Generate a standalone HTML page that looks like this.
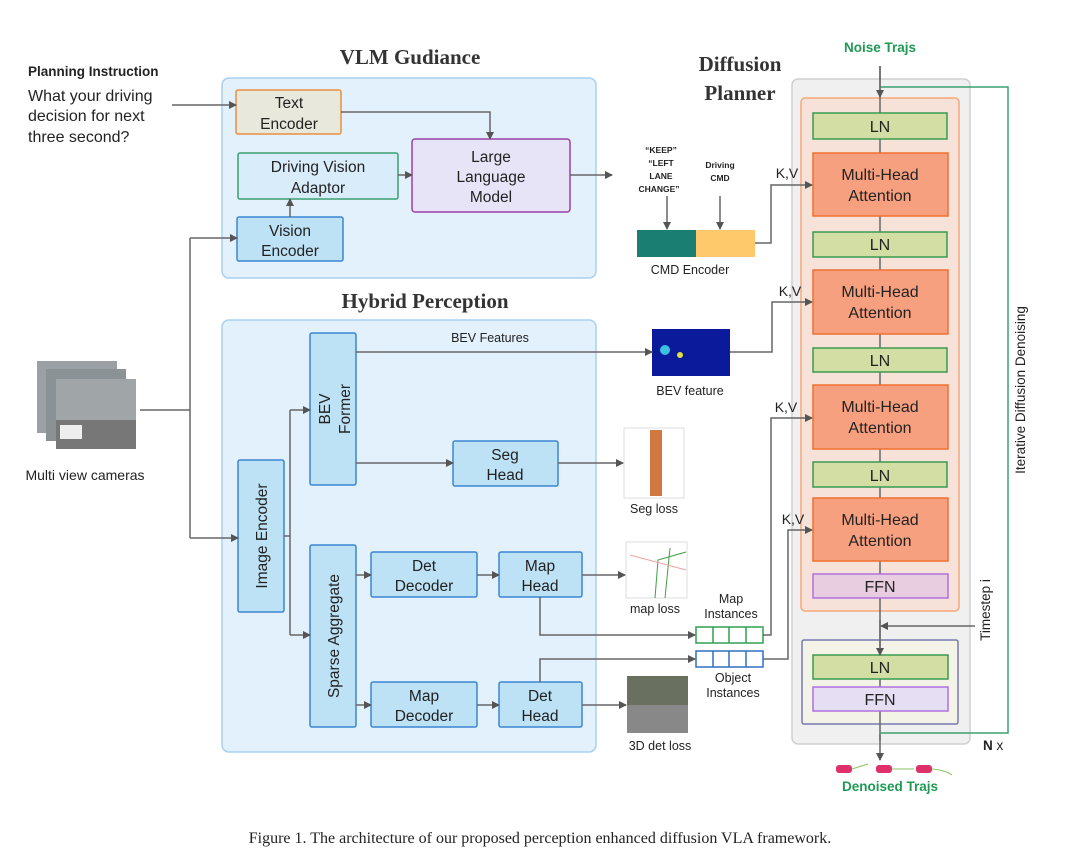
<!DOCTYPE html>
<html><head><meta charset="utf-8"><style>
body{margin:0;background:#fff}
svg{display:block}
text{font-family:"Liberation Sans",sans-serif;fill:#222}
.s{font-family:"Liberation Serif",serif;font-weight:bold;fill:#333}
</style></head><body>
<svg width="1080" height="856" viewBox="0 0 1080 856" xmlns="http://www.w3.org/2000/svg">
<defs>
<marker id="a" markerWidth="8" markerHeight="8" refX="7" refY="4" orient="auto" markerUnits="userSpaceOnUse"><path d="M0,0 L8,4 L0,8 z" fill="#555"/></marker>
</defs>
<text x="410" y="64" class="s" font-size="21" text-anchor="middle">VLM Gudiance</text>
<text x="425" y="308" class="s" font-size="21" text-anchor="middle">Hybrid Perception</text>
<text x="740" y="71" class="s" font-size="21" text-anchor="middle">Diffusion</text>
<text x="740" y="100" class="s" font-size="21" text-anchor="middle">Planner</text>
<text x="28" y="76" font-size="13.5" font-weight="bold" fill="#111">Planning Instruction</text>
<text x="28" y="101" font-size="16">What your driving</text>
<text x="28" y="121" font-size="16">decision for next</text>
<text x="28" y="142" font-size="16">three second?</text>
<rect x="222" y="78" width="374" height="200" rx="7" fill="#e3f1fc" stroke="#a8d0f0" stroke-width="1.5"/>
<rect x="222" y="320" width="374" height="432" rx="7" fill="#e3f1fc" stroke="#a8d0f0" stroke-width="1.5"/>
<rect x="236" y="90" width="105" height="44" rx="2" fill="#e8e9dc" stroke="#e89040" stroke-width="1.5"/>
<text x="289" y="108" font-size="15.5" text-anchor="middle">Text</text>
<text x="289" y="129" font-size="15.5" text-anchor="middle">Encoder</text>
<rect x="238" y="153" width="160" height="46" rx="2" fill="#d9ecfa" stroke="#3aa070" stroke-width="1.5"/>
<text x="318" y="172" font-size="15.5" text-anchor="middle">Driving Vision</text>
<text x="318" y="193" font-size="15.5" text-anchor="middle">Adaptor</text>
<rect x="237" y="217" width="106" height="44" rx="2" fill="#bde2f6" stroke="#3a86d0" stroke-width="1.5"/>
<text x="290" y="236" font-size="15.5" text-anchor="middle">Vision</text>
<text x="290" y="256" font-size="15.5" text-anchor="middle">Encoder</text>
<rect x="412" y="139" width="158" height="73" rx="3" fill="#e8e4f8" stroke="#9a40a8" stroke-width="1.5"/>
<text x="491" y="162" font-size="15.5" text-anchor="middle">Large</text>
<text x="491" y="182" font-size="15.5" text-anchor="middle">Language</text>
<text x="491" y="202" font-size="15.5" text-anchor="middle">Model</text>
<rect x="238" y="460" width="46" height="152" rx="2" fill="#bde2f6" stroke="#3a86d0" stroke-width="1.5"/>
<text transform="translate(267,536) rotate(-90)" font-size="15.5" text-anchor="middle">Image Encoder</text>
<rect x="310" y="333" width="46" height="152" rx="2" fill="#bde2f6" stroke="#3a86d0" stroke-width="1.5"/>
<text transform="translate(330,409) rotate(-90)" font-size="15.5" text-anchor="middle">BEV</text>
<text transform="translate(350,409) rotate(-90)" font-size="15.5" text-anchor="middle">Former</text>
<rect x="310" y="545" width="46" height="182" rx="2" fill="#bde2f6" stroke="#3a86d0" stroke-width="1.5"/>
<text transform="translate(339,636) rotate(-90)" font-size="15.5" text-anchor="middle">Sparse Aggregate</text>
<rect x="453" y="441" width="105" height="45" rx="2" fill="#bde2f6" stroke="#3a86d0" stroke-width="1.5"/>
<text x="505" y="460" font-size="15.5" text-anchor="middle">Seg</text>
<text x="505" y="480" font-size="15.5" text-anchor="middle">Head</text>
<rect x="371" y="552" width="106" height="45" rx="2" fill="#bde2f6" stroke="#3a86d0" stroke-width="1.5"/>
<text x="424" y="571" font-size="15.5" text-anchor="middle">Det</text>
<text x="424" y="591" font-size="15.5" text-anchor="middle">Decoder</text>
<rect x="499" y="552" width="83" height="45" rx="2" fill="#bde2f6" stroke="#3a86d0" stroke-width="1.5"/>
<text x="540" y="571" font-size="15.5" text-anchor="middle">Map</text>
<text x="540" y="591" font-size="15.5" text-anchor="middle">Head</text>
<rect x="371" y="682" width="106" height="45" rx="2" fill="#bde2f6" stroke="#3a86d0" stroke-width="1.5"/>
<text x="424" y="701" font-size="15.5" text-anchor="middle">Map</text>
<text x="424" y="721" font-size="15.5" text-anchor="middle">Decoder</text>
<rect x="499" y="682" width="83" height="45" rx="2" fill="#bde2f6" stroke="#3a86d0" stroke-width="1.5"/>
<text x="540" y="701" font-size="15.5" text-anchor="middle">Det</text>
<text x="540" y="721" font-size="15.5" text-anchor="middle">Head</text>
<rect x="37" y="361" width="80" height="72" fill="#9aa0a4"/>
<rect x="46" y="369" width="80" height="72" fill="#8a9296"/>
<rect x="56" y="379" width="80" height="70" fill="#a0a6a8"/>
<rect x="56" y="420" width="80" height="29" fill="#777"/>
<rect x="60" y="425" width="22" height="14" fill="#eee"/>
<text x="85" y="480" font-size="14" text-anchor="middle">Multi view cameras</text>
<rect x="652" y="329" width="78" height="47" fill="#0a1a9a"/>
<circle cx="665" cy="350" r="5" fill="#3ac0e0"/><circle cx="680" cy="355" r="3" fill="#e0e040"/>
<text x="690" y="395" font-size="12.5" text-anchor="middle">BEV feature</text>
<rect x="624" y="428" width="60" height="70" fill="#fff" stroke="#ddd"/>
<rect x="650" y="430" width="12" height="66" fill="#d07840"/>
<text x="654" y="513" font-size="12.5" text-anchor="middle">Seg loss</text>
<rect x="626" y="542" width="61" height="56" fill="#fff" stroke="#ddd"/>
<path d="M655,598 L658,560 L686,552 M665,598 L670,548" stroke="#40a040" fill="none"/>
<path d="M630,555 L686,570" stroke="#f0a0a0" fill="none"/>
<text x="655" y="613" font-size="12.5" text-anchor="middle">map loss</text>
<rect x="627" y="676" width="61" height="57" fill="#6a7060"/>
<rect x="627" y="705" width="61" height="28" fill="#888"/>
<text x="660" y="750" font-size="12.5" text-anchor="middle">3D det loss</text>
<g fill="#fff" stroke="#30a050" stroke-width="1.5"><rect x="696" y="627" width="67" height="16"/><path d="M713,627v16M729,627v16M746,627v16"/></g>
<g fill="#fff" stroke="#3070c0" stroke-width="1.5"><rect x="696" y="651" width="67" height="16"/><path d="M713,651v16M729,651v16M746,651v16"/></g>
<text x="731" y="603" font-size="12.5" text-anchor="middle">Map</text>
<text x="731" y="618" font-size="12.5" text-anchor="middle">Instances</text>
<text x="733" y="682" font-size="12.5" text-anchor="middle">Object</text>
<text x="733" y="697" font-size="12.5" text-anchor="middle">Instances</text>
<rect x="637" y="230" width="59" height="27" fill="#1a7f72"/>
<rect x="696" y="230" width="59" height="27" fill="#fdc96a"/>
<text x="690" y="274" font-size="12.5" text-anchor="middle">CMD Encoder</text>
<g font-size="8.5" font-weight="bold" text-anchor="middle"><text x="661" y="153">“KEEP”</text><text x="661" y="166">“LEFT</text><text x="661" y="179">LANE</text><text x="659" y="192">CHANGE”</text>
<text x="720" y="168">Driving</text><text x="720" y="181">CMD</text></g>
<rect x="792" y="79" width="178" height="665" rx="6" fill="#f0f0f0" stroke="#cfcfcf" stroke-width="1.5"/>
<rect x="801" y="98" width="158" height="513" rx="4" fill="#f6e2d8" stroke="#f5a878" stroke-width="1.5"/>
<rect x="802" y="640" width="156" height="84" rx="2" fill="#f3f3e8" stroke="#7878b0" stroke-width="1.5"/>
<line x1="880" y1="66" x2="880" y2="740" stroke="#666" stroke-width="1.5"/>
<g stroke="#3a9a50" stroke-width="1.5" fill="#d3dea5">
<rect x="813" y="113" width="134" height="26"/><rect x="813" y="232" width="134" height="25"/><rect x="813" y="348" width="134" height="24"/><rect x="813" y="462" width="134" height="25"/><rect x="813" y="655" width="135" height="24"/></g>
<g stroke="#f07030" stroke-width="1.5" fill="#f7a080">
<rect x="813" y="153" width="135" height="63"/><rect x="813" y="270" width="135" height="64"/><rect x="813" y="385" width="135" height="64"/><rect x="813" y="498" width="135" height="63"/></g>
<rect x="813" y="574" width="135" height="24" fill="#e8cce0" stroke="#b070e0" stroke-width="1.5"/>
<rect x="813" y="687" width="135" height="24" fill="#e6def3" stroke="#b070e0" stroke-width="1.5"/>
<g font-size="16" text-anchor="middle">
<text x="880" y="132">LN</text><text x="880" y="250">LN</text><text x="880" y="366">LN</text><text x="880" y="481">LN</text><text x="880" y="673">LN</text>
<text x="880" y="592">FFN</text><text x="880" y="705">FFN</text>
<text x="880" y="180">Multi-Head</text><text x="880" y="201">Attention</text>
<text x="880" y="297">Multi-Head</text><text x="880" y="318">Attention</text>
<text x="880" y="412">Multi-Head</text><text x="880" y="433">Attention</text>
<text x="880" y="525">Multi-Head</text><text x="880" y="546">Attention</text></g>
<g font-size="14" text-anchor="middle"><text x="787" y="178">K,V</text><text x="790" y="296">K,V</text><text x="786" y="412">K,V</text><text x="793" y="524">K,V</text></g>
<text x="880" y="52" font-size="13.5" font-weight="bold" text-anchor="middle" style="fill:#1f9a55">Noise Trajs</text>
<text x="890" y="791" font-size="13.5" font-weight="bold" text-anchor="middle" style="fill:#1f9a55">Denoised Trajs</text>
<text transform="translate(990,610) rotate(-90)" font-size="13.5" text-anchor="middle">Timestep i</text>
<text transform="translate(1025,390) rotate(-90)" font-size="13.5" text-anchor="middle">Iterative Diffusion Denoising</text>
<text x="983" y="750" font-size="13.5" font-weight="bold">N <tspan font-weight="normal">x</tspan></text>
<g fill="#e0306a"><rect x="836" y="765" width="16" height="8" rx="3"/><rect x="876" y="765" width="16" height="8" rx="3"/><rect x="916" y="765" width="16" height="8" rx="3"/></g>
<path d="M852,769 L868,764 M892,769 L914,769 M932,769 Q945,770 952,775" stroke="#8bc060" fill="none"/>
<polyline points="880,733 1008,733 1008,87 880,87" fill="none" stroke="#3aa070" stroke-width="1.5"/>
<g stroke="#666" stroke-width="1.5" fill="none" marker-end="url(#a)">
<line x1="172" y1="105" x2="236" y2="105"/>
<polyline points="341,112 490,112 490,139"/>
<line x1="290" y1="217" x2="290" y2="199"/>
<line x1="398" y1="175" x2="412" y2="175"/>
<line x1="570" y1="175" x2="612" y2="175"/>
<polyline points="190,238 237,238"/>
<polyline points="190,538 238,538"/>
<polyline points="290,410 310,410"/>
<polyline points="290,635 310,635"/>
<line x1="356" y1="352" x2="652" y2="352"/>
<line x1="356" y1="463" x2="453" y2="463"/>
<line x1="558" y1="463" x2="623" y2="463"/>
<line x1="356" y1="575" x2="371" y2="575"/>
<line x1="477" y1="575" x2="499" y2="575"/>
<line x1="582" y1="575" x2="625" y2="575"/>
<line x1="356" y1="705" x2="371" y2="705"/>
<line x1="477" y1="705" x2="499" y2="705"/>
<line x1="582" y1="705" x2="626" y2="705"/>
<polyline points="540,597 540,635 695,635"/>
<polyline points="540,682 540,659 695,659"/>
<line x1="667" y1="196" x2="667" y2="229"/>
<line x1="720" y1="196" x2="720" y2="229"/>
<polyline points="755,243 771,243 771,185 812,185"/>
<polyline points="730,352 772,352 772,302 812,302"/>
<polyline points="763,635 771,635 771,418 812,418"/>
<polyline points="763,659 788,659 788,530 812,530"/>
<line x1="880" y1="66" x2="880" y2="97"/>
<line x1="975" y1="626" x2="881" y2="626"/>
<line x1="880" y1="620" x2="880" y2="655"/>
<line x1="880" y1="735" x2="880" y2="760"/>
</g>
<g stroke="#666" stroke-width="1.5"><line x1="140" y1="410" x2="190" y2="410"/><line x1="190" y1="238" x2="190" y2="538"/><line x1="284" y1="536" x2="290" y2="536"/><line x1="290" y1="410" x2="290" y2="635"/></g>
<text x="490" y="342" font-size="12.5" text-anchor="middle">BEV Features</text>
<text x="540" y="843" font-size="16" text-anchor="middle" style="font-family:'Liberation Serif',serif">Figure 1. The architecture of our proposed perception enhanced diffusion VLA framework.</text>
</svg>
</body></html>
